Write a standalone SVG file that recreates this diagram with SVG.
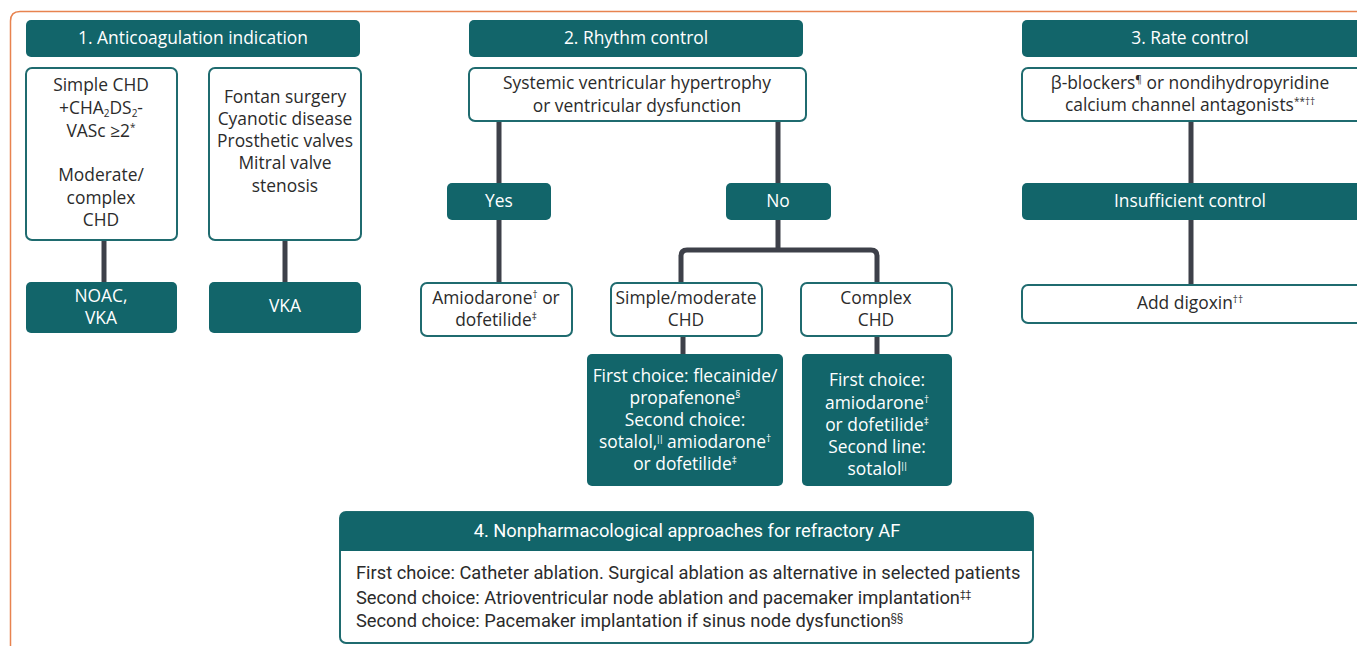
<svg xmlns="http://www.w3.org/2000/svg" width="1357" height="646" viewBox="0 0 1357 646">
<style>
.t{font-family:"Open Sans",Lato,sans-serif;font-size:17.4px;fill:#2b2b2b;text-anchor:middle}
.b{font-family:Roboto,sans-serif;font-size:18.3px;fill:#2b2b2b}
.w{fill:#ffffff}
.dark{fill:#12656a}
.lite{fill:#ffffff;stroke:#1f6b6f;stroke-width:2}
.con{fill:none;stroke:#3d4049;stroke-width:5}
.sup{font-size:10px}
</style>
<rect width="1357" height="646" fill="#ffffff"/>
<path d="M10.5,646 V21 Q10.5,11.5 20,11.5 H1357" fill="none" stroke="#e8834f" stroke-width="1.5"/>
<g id="connectors">
<line class="con" x1="104" y1="240" x2="104" y2="282"/>
<line class="con" x1="285" y1="240" x2="285" y2="282"/>
<line class="con" x1="499" y1="121" x2="499" y2="283"/>
<line class="con" x1="778" y1="121" x2="778" y2="250"/>
<path class="con" d="M681,283 V256 Q681,250 687,250 H871 Q877,250 877,256 V283"/>
<line class="con" x1="683" y1="336" x2="683" y2="354"/>
<line class="con" x1="877" y1="336" x2="877" y2="354"/>
<line class="con" x1="1191" y1="121" x2="1191" y2="285"/>
</g>
<g id="h1"><rect class="dark" x="26" y="20" width="334" height="37" rx="5"/><text class="t w" x="193" y="44">1. Anticoagulation indication</text></g>
<g id="simplechd"><rect class="lite" x="26" y="68" width="151" height="172" rx="6"/>
<text class="t"><tspan x="101" y="91">Simple CHD</tspan><tspan x="101" y="114">+CHA</tspan><tspan class="sup" dy="3">2</tspan><tspan dy="-3">DS</tspan><tspan class="sup" dy="3">2</tspan><tspan dy="-3">-</tspan><tspan x="101" y="137">VASc ≥2</tspan><tspan class="sup" dy="-6">*</tspan><tspan x="101" y="181">Moderate/</tspan><tspan x="101" y="204">complex</tspan><tspan x="101" y="226">CHD</tspan></text></g>
<g id="fontan"><rect class="lite" x="209" y="68" width="152" height="172" rx="6"/>
<text class="t"><tspan x="285" y="103">Fontan surgery</tspan><tspan x="285" y="125">Cyanotic disease</tspan><tspan x="285" y="147">Prosthetic valves</tspan><tspan x="285" y="169">Mitral valve</tspan><tspan x="285" y="192">stenosis</tspan></text></g>
<g id="noac"><rect class="dark" x="26" y="282" width="151" height="51" rx="5"/>
<text class="t w"><tspan x="101" y="302">NOAC,</tspan><tspan x="101" y="324">VKA</tspan></text></g>
<g id="vka"><rect class="dark" x="209" y="282" width="152" height="51" rx="5"/>
<text class="t w" x="285" y="312">VKA</text></g>
<g id="h2"><rect class="dark" x="469" y="20" width="334" height="37" rx="5"/><text class="t w" x="636" y="44">2. Rhythm control</text></g>
<g id="systemic"><rect class="lite" x="469" y="68" width="337" height="53" rx="6"/>
<text class="t"><tspan x="637" y="89">Systemic ventricular hypertrophy</tspan><tspan x="637" y="112">or ventricular dysfunction</tspan></text></g>
<g id="yes"><rect class="dark" x="447" y="183" width="104" height="37" rx="5"/><text class="t w" x="499" y="207">Yes</text></g>
<g id="no"><rect class="dark" x="726" y="183" width="105" height="37" rx="5"/><text class="t w" x="778" y="207">No</text></g>
<g id="amio"><rect class="lite" x="421" y="283" width="151" height="53" rx="6"/>
<text class="t"><tspan x="496" y="304">Amiodarone</tspan><tspan class="sup" dy="-6">†</tspan><tspan dy="6"> or</tspan><tspan x="496" y="326">dofetilide</tspan><tspan class="sup" dy="-6">‡</tspan></text></g>
<g id="simplemod"><rect class="lite" x="611" y="283" width="151" height="53" rx="6"/>
<text class="t"><tspan x="686" y="304">Simple/moderate</tspan><tspan x="686" y="326">CHD</tspan></text></g>
<g id="complex"><rect class="lite" x="801" y="283" width="151" height="53" rx="6"/>
<text class="t"><tspan x="876" y="304">Complex</tspan><tspan x="876" y="326">CHD</tspan></text></g>
<g id="firstsimple"><rect class="dark" x="587" y="354" width="196" height="132" rx="5"/>
<text class="t w"><tspan x="685" y="382">First choice: flecainide/</tspan><tspan x="685" y="404">propafenone</tspan><tspan class="sup" dy="-6">§</tspan><tspan x="685" y="426">Second choice:</tspan><tspan x="685" y="448">sotalol,</tspan><tspan class="sup" dy="-6">ǁ</tspan><tspan dy="6"> amiodarone</tspan><tspan class="sup" dy="-6">†</tspan><tspan x="685" y="470">or dofetilide</tspan><tspan class="sup" dy="-6">‡</tspan></text></g>
<g id="firstcomplex"><rect class="dark" x="802" y="354" width="150" height="132" rx="5"/>
<text class="t w"><tspan x="877" y="386">First choice:</tspan><tspan x="877" y="409">amiodarone</tspan><tspan class="sup" dy="-6">†</tspan><tspan x="877" y="431">or dofetilide</tspan><tspan class="sup" dy="-6">‡</tspan><tspan x="877" y="453">Second line:</tspan><tspan x="877" y="475">sotalol</tspan><tspan class="sup" dy="-6">ǁ</tspan></text></g>
<g id="h3"><rect class="dark" x="1022" y="20" width="345" height="37" rx="5"/><text class="t w" x="1190" y="44">3. Rate control</text></g>
<g id="beta"><rect class="lite" x="1022" y="68" width="345" height="53" rx="6"/>
<text class="t"><tspan x="1190" y="89">β-blockers</tspan><tspan class="sup" dy="-6">¶</tspan><tspan dy="6"> or nondihydropyridine</tspan><tspan x="1190" y="111">calcium channel antagonists</tspan><tspan class="sup" dy="-6">**††</tspan></text></g>
<g id="insufficient"><rect class="dark" x="1022" y="183" width="345" height="37" rx="5"/><text class="t w" x="1190" y="207">Insufficient control</text></g>
<g id="digoxin"><rect class="lite" x="1022" y="285" width="345" height="38" rx="6"/><text class="t" x="1190" y="309">Add digoxin<tspan class="sup" dy="-6">††</tspan></text></g>
<g id="nonpharm"><rect class="lite" x="340" y="512" width="693" height="131" rx="6"/>
<path class="dark" d="M340,551 V518 Q340,512 346,512 H1027 Q1033,512 1033,518 V551 Z"/>
<text class="b w" x="687" y="537" text-anchor="middle">4. Nonpharmacological approaches for refractory AF</text>
<text class="b"><tspan x="356" y="579">First choice: Catheter ablation. Surgical ablation as alternative in selected patients</tspan><tspan x="356" y="604">Second choice: Atrioventricular node ablation and pacemaker implantation</tspan><tspan class="sup" dy="-6">‡‡</tspan><tspan x="356" y="627">Second choice: Pacemaker implantation if sinus node dysfunction</tspan><tspan class="sup" dy="-6">§§</tspan></text></g>
</svg>
